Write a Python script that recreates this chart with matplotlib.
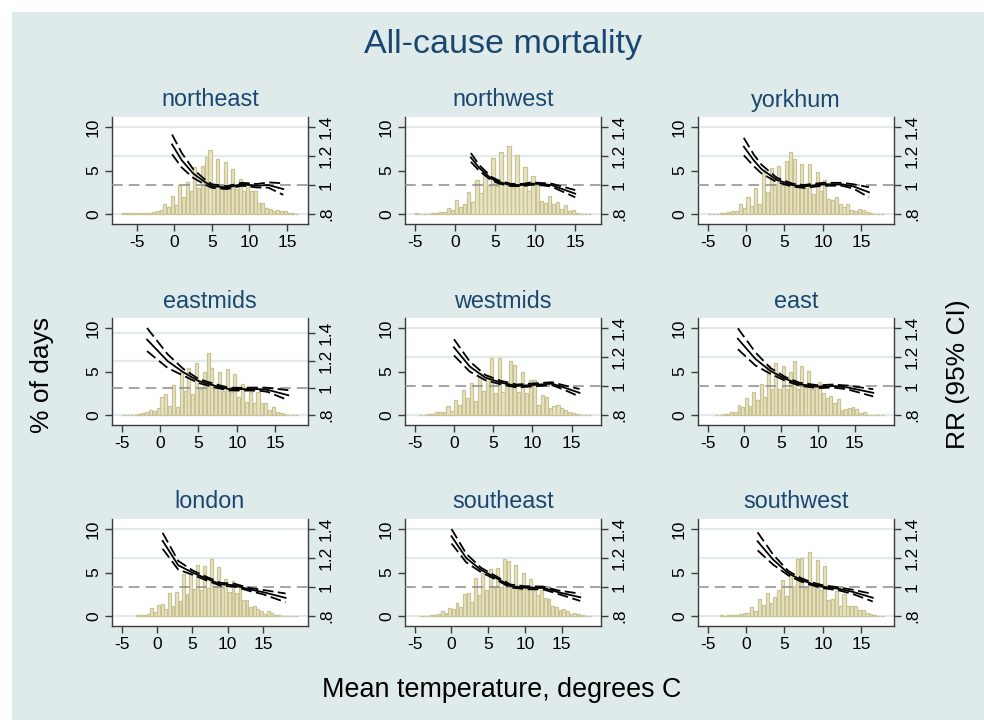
import matplotlib.pyplot as plt
import numpy as np
from matplotlib.patches import Rectangle
from matplotlib.transforms import blended_transform_factory

plt.rcParams['font.family'] = ['Liberation Sans', 'DejaVu Sans']
plt.rcParams['axes.unicode_minus'] = False

# ---- data -------------------------------------------------------------
regions = ['northeast', 'northwest', 'yorkhum',
           'eastmids', 'westmids', 'east',
           'london', 'southeast', 'southwest']

bin_width = 0.5   # degrees C per histogram bar

# % of days per bin, first value is the bin centred at *_start
ne_start = -6.75
ne_pct = [0.1, 0.1, 0.1, 0.1, 0.15, 0.1, 0.15, 0.15, 0.2, 0.35, 0.5, 1.1, 0.8, 2.1, 1.0,
          3.3, 2.0, 3.7, 2.7, 5.4, 3.0, 5.5, 6.6, 7.3, 3.0, 6.3, 3.4, 6.0, 3.1, 5.2,
          2.9, 4.0, 2.6, 3.7, 2.6, 2.6, 1.3, 1.3, 0.7, 0.6, 0.4, 0.5, 0.3, 0.3, 0.1,
          0.1, 0.05]
nw_start = -4.75
nw_pct = [0.1, 0.0, 0.05, 0.05, 0.1, 0.1, 0.2, 0.2, 0.7, 0.5, 1.6, 0.8, 1.1, 2.5, 1.4,
          3.9, 2.4, 4.9, 3.3, 6.4, 3.2, 7.1, 3.6, 7.8, 3.0, 6.8, 3.4, 5.4, 2.6, 4.4,
          3.3, 1.5, 1.3, 2.1, 1.1, 1.4, 0.6, 1.0, 0.4, 0.5, 0.15, 0.05, 0.05, 0.05]
yh_start = -4.75
yh_pct = [0.05, 0.05, 0.05, 0.1, 0.15, 0.2, 0.4, 0.4, 1.1, 0.7, 2.0, 0.9, 3.0, 1.1, 4.8,
          2.5, 5.3, 3.5, 5.5, 3.4, 6.1, 7.1, 6.3, 3.3, 5.8, 3.0, 5.7, 2.3, 4.8, 2.7,
          3.9, 1.7, 1.6, 2.0, 1.1, 0.8, 1.1, 0.5, 0.3, 0.6, 0.5, 0.2, 0.1, 0.05, 0.05,
          0.05]
em_start = -4.75
em_pct = [0.05, 0.05, 0.0, 0.05, 0.1, 0.2, 0.3, 0.6, 0.5, 0.8, 2.1, 2.4, 1.0, 3.5, 0.9,
          5.1, 2.8, 5.4, 2.4, 6.0, 3.0, 5.0, 7.1, 5.4, 3.0, 5.0, 2.8, 5.3, 2.7, 4.7,
          2.1, 3.6, 1.5, 2.6, 1.4, 2.6, 1.4, 1.4, 0.6, 0.9, 0.4, 0.2, 0.1, 0.05, 0.05,
          0.05]
wm_start = -4.25
wm_pct = [0.05, 0.05, 0.1, 0.15, 0.3, 0.3, 0.4, 1.0, 0.5, 1.7, 1.2, 2.9, 1.9, 3.7, 1.6,
          4.8, 2.8, 4.5, 6.5, 2.5, 6.6, 2.6, 3.6, 6.2, 5.8, 2.7, 5.0, 2.5, 4.0, 4.0,
          1.1, 2.3, 2.1, 0.8, 1.0, 1.1, 0.8, 0.6, 0.4, 0.2, 0.1, 0.05, 0.05, 0.05]
ea_start = -3.75
ea_pct = [0.05, 0.05, 0.1, 0.1, 0.3, 0.4, 1.2, 0.9, 2.0, 1.0, 2.7, 1.7, 3.6, 2.1, 5.7,
          3.0, 6.0, 3.0, 5.6, 3.0, 5.0, 6.2, 3.0, 5.6, 3.2, 5.1, 3.0, 3.6, 3.8, 2.5,
          2.0, 2.2, 1.4, 1.8, 0.6, 0.7, 0.8, 0.9, 0.7, 0.2, 0.4, 0.05, 0.05, 0.05, 0.05,
          0.05]
lo_start = -2.75
lo_pct = [0.15, 0.15, 0.1, 0.25, 0.9, 0.5, 1.3, 1.4, 0.8, 2.7, 1.2, 2.8, 1.7, 4.8, 2.5,
          4.9, 3.1, 5.9, 3.0, 5.7, 3.2, 6.5, 3.5, 5.6, 3.2, 4.2, 2.8, 4.0, 2.6, 3.3,
          1.8, 1.8, 1.0, 1.1, 0.8, 0.6, 0.2, 0.6, 0.3, 0.15, 0.1, 0.05, 0.05, 0.0, 0.0,
          0.05]
se_start = -4.25
se_pct = [0.05, 0.05, 0.05, 0.1, 0.1, 0.2, 0.6, 0.4, 0.9, 0.8, 1.5, 1.0, 2.5, 2.6, 1.6,
          4.4, 2.4, 4.9, 3.0, 5.4, 3.3, 5.5, 3.3, 6.5, 6.3, 3.2, 5.9, 3.0, 5.0, 3.4,
          4.3, 3.0, 2.4, 3.0, 2.1, 2.0, 1.2, 1.0, 0.7, 0.8, 0.6, 0.2, 0.3, 0.2, 0.1,
          0.0, 0.05]
sw_start = -3.25
sw_pct = [0.1, 0.0, 0.1, 0.1, 0.15, 0.2, 0.35, 0.3, 1.0, 0.6, 2.0, 1.3, 2.7, 1.5, 2.2,
          3.0, 4.1, 2.3, 4.9, 3.5, 6.5, 6.7, 3.2, 7.4, 3.3, 6.4, 3.0, 5.8, 1.8, 2.0,
          2.9, 1.2, 2.5, 1.1, 1.1, 1.1, 0.7, 0.7, 0.3, 0.2, 0.1, 0.05, 0.05]

# relative risk curve: temperature, RR, half width of 95% CI
ne_temp = [-0.3, 1.0, 2.5, 4.0, 5.0, 7.0, 9.0, 11.0, 12.5, 14.5]
ne_rr = [1.28, 1.17, 1.08, 1.023, 0.993, 0.982, 1.005, 0.995, 1.0, 0.972]
ne_ci = [0.068, 0.05, 0.03, 0.018, 0.012, 0.01, 0.01, 0.012, 0.018, 0.04]

nw_temp = [2.0, 3.0, 4.5, 5.5, 7.0, 8.5, 9.5, 11.0, 12.0, 13.0, 15.0]
nw_rr = [1.19, 1.12, 1.045, 1.02, 1.0, 1.0, 1.01, 1.005, 1.0, 0.98, 0.94]
nw_ci = [0.03, 0.02, 0.012, 0.01, 0.008, 0.008, 0.008, 0.008, 0.01, 0.015, 0.025]

yh_temp = [-0.3, 1.0, 2.0, 4.0, 6.0, 7.5, 10.0, 12.5, 14.0, 16.0]
yh_rr = [1.265, 1.17, 1.11, 1.035, 1.0, 0.99, 1.005, 1.005, 0.99, 0.95]
yh_ci = [0.06, 0.04, 0.03, 0.015, 0.01, 0.01, 0.01, 0.01, 0.015, 0.035]

em_temp = [-1.7, 1.0, 3.0, 5.0, 7.0, 9.0, 11.0, 13.0, 14.0, 16.7]
em_rr = [1.354, 1.195, 1.115, 1.05, 1.017, 0.99, 0.99, 0.99, 0.985, 0.945]
em_ci = [0.085, 0.05, 0.025, 0.015, 0.012, 0.01, 0.01, 0.012, 0.015, 0.037]

wm_temp = [0.0, 2.0, 4.0, 6.0, 8.0, 10.0, 12.5, 14.0, 16.0]
wm_rr = [1.267, 1.135, 1.058, 1.023, 1.0, 1.007, 1.016, 0.99, 0.953]
wm_ci = [0.056, 0.035, 0.018, 0.012, 0.01, 0.01, 0.01, 0.015, 0.026]

ea_temp = [-0.9, 1.5, 3.5, 5.5, 7.5, 10.0, 12.0, 14.0, 17.5]
ea_rr = [1.326, 1.186, 1.105, 1.05, 1.012, 0.995, 1.0, 0.99, 0.953]
ea_ci = [0.072, 0.045, 0.02, 0.013, 0.01, 0.01, 0.01, 0.013, 0.025]

lo_temp = [0.8, 3.0, 5.0, 7.0, 9.0, 11.0, 13.0, 15.0, 18.2]
lo_rr = [1.318, 1.15, 1.10, 1.058, 1.019, 1.012, 0.984, 0.965, 0.925]
lo_ci = [0.055, 0.03, 0.015, 0.012, 0.01, 0.01, 0.01, 0.015, 0.03]

se_temp = [0.0, 2.0, 4.0, 6.0, 8.0, 10.0, 12.5, 14.5, 17.5]
se_rr = [1.35, 1.20, 1.118, 1.064, 1.007, 0.995, 0.993, 0.964, 0.929]
se_ci = [0.05, 0.03, 0.015, 0.012, 0.01, 0.01, 0.01, 0.012, 0.025]

sw_temp = [1.5, 3.5, 5.5, 7.0, 8.5, 10.0, 12.0, 14.0, 16.5]
sw_rr = [1.315, 1.19, 1.095, 1.053, 1.023, 1.002, 0.988, 0.965, 0.926]
sw_ci = [0.062, 0.035, 0.015, 0.012, 0.01, 0.01, 0.01, 0.015, 0.026]

panels = [
    (ne_start, ne_pct, ne_temp, ne_rr, ne_ci),
    (nw_start, nw_pct, nw_temp, nw_rr, nw_ci),
    (yh_start, yh_pct, yh_temp, yh_rr, yh_ci),
    (em_start, em_pct, em_temp, em_rr, em_ci),
    (wm_start, wm_pct, wm_temp, wm_rr, wm_ci),
    (ea_start, ea_pct, ea_temp, ea_rr, ea_ci),
    (lo_start, lo_pct, lo_temp, lo_rr, lo_ci),
    (se_start, se_pct, se_temp, se_rr, se_ci),
    (sw_start, sw_pct, sw_temp, sw_rr, sw_ci),
]

# ---- style ------------------------------------------------------------
W, H = 984, 720
BG = '#dfeaea'
NAVY = '#1a476f'
BAR_FILL = '#e8e4c3'
BAR_EDGE = '#c9c394'
GRID = '#e2ebeb'
AXC = '#3c3c3c'

col_left = [112, 405, 698]
row_top = [117, 318, 519]
pw, ph = 196, 107

fig = plt.figure(figsize=(W / 100, H / 100), dpi=100)
fig.patches.append(Rectangle((12 / W, 0), 1, 1 - 12 / H, transform=fig.transFigure,
                             facecolor=BG, edgecolor='none', zorder=-10))

for i, (name, (start, pct, temp, rr, ci)) in enumerate(zip(regions, panels)):
    r, c = divmod(i, 3)
    L, T = col_left[c], row_top[r]
    ax = fig.add_axes([L / W, 1 - (T + ph) / H, pw / W, ph / H])
    ax2 = ax.twinx()

    pct = np.array(pct)
    centers = start + bin_width * np.arange(len(pct))
    temp = np.array(temp)
    rr = np.array(rr)
    ci = np.array(ci)
    lo, hi = rr - ci, rr + ci

    # axis ranges (data range or tick range, with margin)
    x0 = min(centers[0] - bin_width / 2, -5)
    x1 = max(centers[-1] + bin_width / 2, 15)
    pad = 0.055 * (x1 - x0)
    ax.set_xlim(x0 - pad, x1 + pad)
    m = 0.115
    ax.set_ylim(-m * 10, 10 + m * 10)
    r0 = min(0.8, lo.min())
    r1 = max(1.4, hi.max())
    ax2.set_ylim(r0 - m * (r1 - r0), r1 + m * (r1 - r0))

    ax.set_facecolor('white')
    ax2.set_facecolor('none')

    # grid lines at right-axis ticks, behind bars
    trans = blended_transform_factory(ax.transAxes, ax2.transData)
    for g in [0.8, 1.2, 1.4]:
        ax.plot([0, 1], [g, g], transform=trans, color=GRID, lw=1.6, zorder=1)

    ax.bar(centers, pct, width=0.4, color=BAR_FILL, edgecolor=BAR_EDGE,
           linewidth=0.9, zorder=2)

    ax2.axhline(1, color='#8c8c8c', lw=1.1, dashes=(7, 4), zorder=1)
    ax2.plot(temp, rr, color='black', lw=1.3, zorder=3)
    ax2.plot(temp, lo, color='black', lw=1.3, dashes=(6, 2.5), zorder=3)
    ax2.plot(temp, hi, color='black', lw=1.3, dashes=(6, 2.5), zorder=3)

    for s in ['top', 'right']:
        ax.spines[s].set_visible(False)
    for s in ['top', 'left', 'bottom']:
        ax2.spines[s].set_visible(False)
    for sp in [ax.spines['left'], ax.spines['bottom'], ax2.spines['right']]:
        sp.set_color(AXC)
        sp.set_linewidth(1)

    ax.set_xticks([-5, 0, 5, 10, 15])
    ax.set_yticks([0, 5, 10])
    ax.tick_params(direction='out', length=5, width=1, color=AXC, labelsize=12.5, pad=3)
    ax.tick_params(axis='y', labelrotation=90)
    plt.setp(ax.get_yticklabels(), va='center')
    ax2.set_yticks([0.8, 1.0, 1.2, 1.4])
    ax2.set_yticklabels(['.8', '1', '1.2', '1.4'], rotation=90, va='center')
    ax2.tick_params(direction='out', length=5, width=1, color=AXC, labelsize=12.5, pad=3)

    fig.text((L + pw / 2) / W, 1 - (T - 17) / H, name, ha='center', va='center',
             fontsize=16.8, color=NAVY)

fig.text(503 / W, 1 - 45 / H, 'All-cause mortality', ha='center', va='center',
         fontsize=24.5, color=NAVY)
fig.text(42 / W, 1 - 375 / H, '% of days', ha='center', va='center',
         rotation=90, fontsize=19)
fig.text(958 / W, 1 - 374 / H, 'RR (95% CI)', ha='center', va='center',
         rotation=90, fontsize=19)
fig.text(502 / W, 1 - 690 / H, 'Mean temperature, degrees C', ha='center',
         va='center', fontsize=19.4)

fig.savefig('out.png', dpi=100, facecolor='white')
